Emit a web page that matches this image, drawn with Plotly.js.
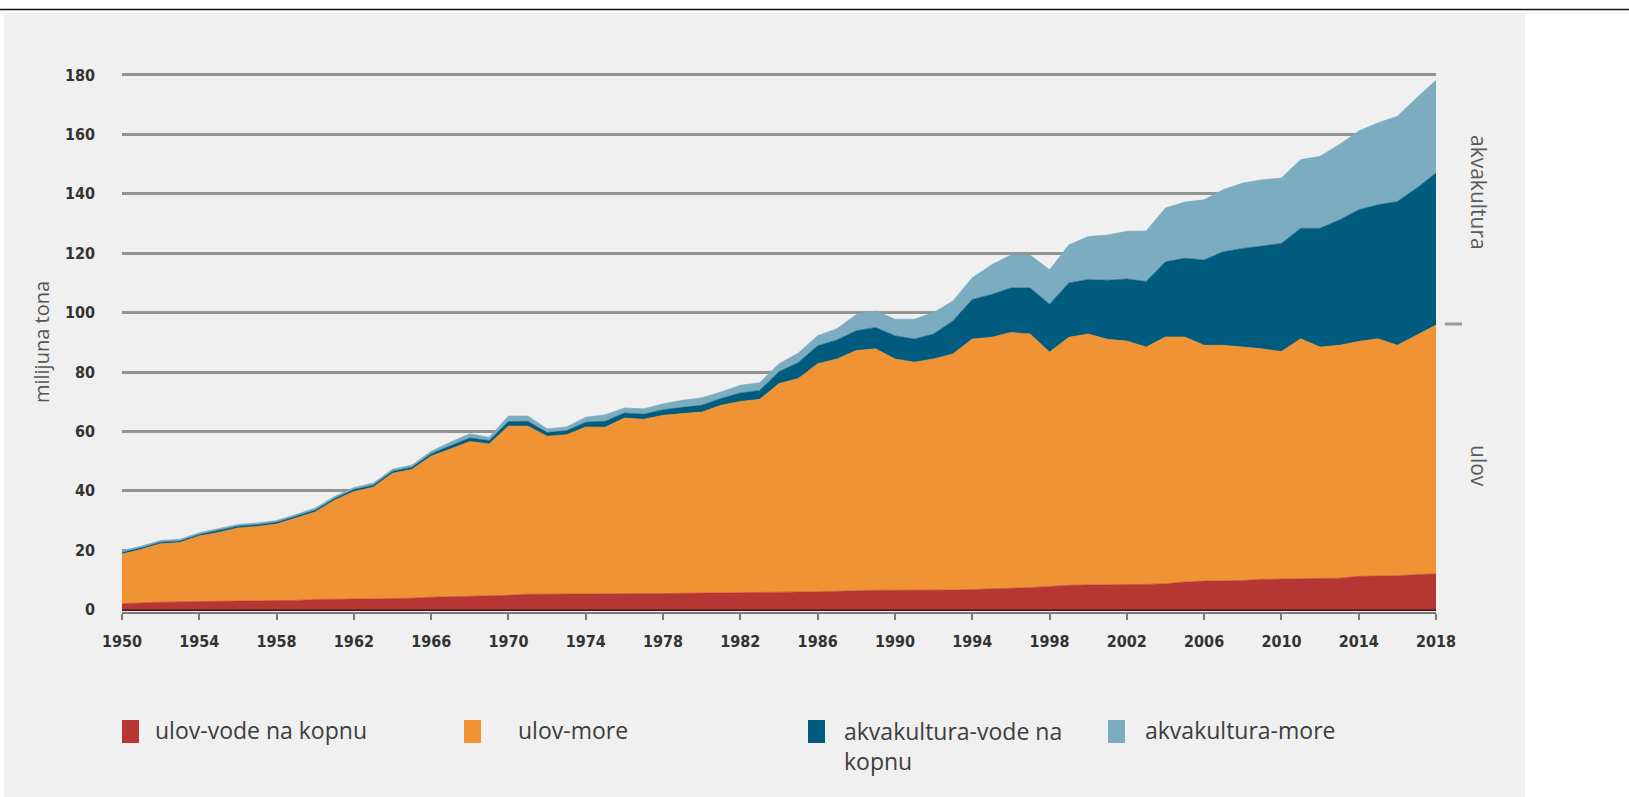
<!DOCTYPE html>
<html>
<head>
<meta charset="utf-8">
<script src="https://cdn.plot.ly/plotly-3.0.1.min.js"></script>
<style>
  html, body { margin: 0; padding: 0; background: #ffffff; }
  #chart { width: 1629px; height: 797px; }
</style>
</head>
<body>
<div id="chart"></div>
<script>
// ---- data (million tonnes) ----
const years = [1950,1951,1952,1953,1954,1955,1956,1957,1958,1959,
  1960,1961,1962,1963,1964,1965,1966,1967,1968,1969,
  1970,1971,1972,1973,1974,1975,1976,1977,1978,1979,
  1980,1981,1982,1983,1984,1985,1986,1987,1988,1989,
  1990,1991,1992,1993,1994,1995,1996,1997,1998,1999,
  2000,2001,2002,2003,2004,2005,2006,2007,2008,2009,
  2010,2011,2012,2013,2014,2015,2016,2017,2018];

const captureInland = [2.0,2.3,2.5,2.6,2.8,2.8,2.9,2.9,3.0,3.1,
  3.4,3.5,3.5,3.6,3.6,3.8,4.2,4.3,4.4,4.5,
  4.8,5.2,5.2,5.3,5.3,5.3,5.4,5.4,5.4,5.5,
  5.5,5.6,5.7,5.8,5.8,5.9,6.0,6.2,6.4,6.5,
  6.5,6.5,6.5,6.6,6.8,7.1,7.2,7.4,7.9,8.2,
  8.3,8.3,8.4,8.5,8.7,9.3,9.6,9.7,9.8,10.2,
  10.4,10.4,10.5,10.6,11.2,11.3,11.4,11.8,12.0];

const captureMarine = [16.7,18.0,19.7,20.0,22.0,23.2,24.6,25.1,25.8,27.7,
  29.5,33.3,36.3,37.6,42.3,43.4,47.5,49.8,52.2,51.3,
  57.0,56.6,53.2,53.6,56.2,56.1,59.1,58.7,60.0,60.5,
  61.0,63.2,64.4,65.0,70.3,71.9,76.8,78.2,80.8,81.3,
  77.9,76.8,77.9,79.5,84.3,84.6,86.1,85.4,78.8,83.5,
  84.5,82.7,82.0,79.9,83.1,82.5,79.4,79.3,78.6,77.6,
  76.5,80.8,77.9,78.4,79.1,79.9,77.6,80.5,83.8];

const aquaInland = [0.5,0.5,0.5,0.5,0.5,0.6,0.6,0.6,0.6,0.6,
  0.6,0.6,0.6,0.7,0.7,0.7,0.8,1.1,1.2,1.1,
  1.5,1.6,1.2,1.3,1.6,2.0,1.7,1.7,1.9,2.1,
  2.3,2.3,2.8,3.0,4.0,5.4,6.0,6.4,6.7,7.2,
  7.8,7.8,8.4,11.1,13.3,14.4,15.0,15.5,16.1,18.3,
  18.3,19.9,20.9,22.1,25.3,26.5,28.7,31.5,33.2,34.6,
  36.4,37.2,40.0,42.2,44.3,45.1,48.4,49.6,51.2];

const aquaMarine = [0.6,0.6,0.6,0.6,0.6,0.6,0.6,0.6,0.6,0.6,
  0.7,0.7,0.7,0.7,0.7,0.8,0.8,1.2,1.4,1.1,
  1.9,1.8,1.3,1.3,1.7,2.2,1.7,1.8,2.0,2.4,
  2.5,2.2,2.6,2.6,2.7,3.2,3.4,3.8,5.5,5.6,
  5.6,6.7,7.2,6.7,7.3,10.0,11.1,11.1,11.6,12.8,
  14.5,15.2,16.1,17.0,18.1,18.9,20.3,20.9,22.0,22.3,
  22.0,23.1,24.2,25.4,26.5,27.6,28.7,30.4,31.2];

const seriesNames = ['ulov-vode na kopnu', 'ulov-more', 'akvakultura-vode na kopnu', 'akvakultura-more'];
const legendLabels = ['ulov-vode na kopnu', 'ulov-more', 'akvakultura-vode na<br>kopnu', 'akvakultura-more'];
const seriesColors = ['#b63633', '#f09334', '#005b7f', '#7bacbf'];
const yTicks = [0,20,40,60,80,100,120,140,160,180];
const yAxisTitle = 'milijuna tona';
const sideLabels = ['akvakultura', 'ulov'];

// ---- layout geometry (pixels) ----
const W = 1629, H = 797;
const M = {l: 122, r: 193, t: 72, b: 185};
const PW = W - M.l - M.r, PH = H - M.t - M.b;
const px = x => (x - M.l) / PW;          // pixel -> paper x
const py = y => (H - M.b - y) / PH;      // pixel -> paper y

const seriesData = [captureInland, captureMarine, aquaInland, aquaMarine];
const traces = seriesData.map((vals, i) => ({
  type: 'scatter',
  x: years,
  y: vals,
  name: seriesNames[i],
  stackgroup: 'one',
  mode: 'lines',
  line: {width: 0.6, color: seriesColors[i], shape: 'linear'},
  fillcolor: seriesColors[i],
  showlegend: false,
  hoverinfo: 'x+y+name'
}));

const tickFont = {family: '"Liberation Sans Narrow", "DejaVu Sans Condensed", Roboto, sans-serif', size: 16, color: '#333333', weight: 700};
const textFont = {family: '"Open Sans", "Noto Sans", sans-serif', size: 23, color: '#3d3d3d'};
const sideFont = {family: '"Open Sans", "Noto Sans", sans-serif', size: 21, color: '#5a5a5a'};

const shapes = [
  // grey panel
  {type: 'rect', xref: 'paper', yref: 'paper', x0: px(4), x1: px(1525), y0: py(797), y1: py(13),
   fillcolor: '#f0f0f0', line: {width: 0}, layer: 'below'},
  // top rule
  {type: 'line', xref: 'paper', yref: 'paper', x0: px(0), x1: px(1629), y0: py(9.5), y1: py(9.5),
   line: {color: '#111111', width: 1.5}},
  // small separator dash on the right
  {type: 'line', xref: 'paper', yref: 'paper', x0: px(1445), x1: px(1462), y0: py(324), y1: py(324),
   line: {color: '#9a9a9a', width: 3}}
];

const legendX = [122, 464, 808, 1108];
const legendTextX = [153, 516, 842, 1143];
legendX.forEach((x, i) => {
  shapes.push({type: 'rect', xref: 'paper', yref: 'paper', x0: px(x), x1: px(x + 17), y0: py(743), y1: py(720),
    fillcolor: seriesColors[i], line: {width: 0}});
});

const annotations = legendLabels.map((t, i) => ({
  xref: 'paper', yref: 'paper', x: px(legendTextX[i]), y: py(i === 2 ? 746 : 730),
  xanchor: 'left', yanchor: 'middle', align: 'left', showarrow: false,
  text: t, font: textFont
}));
annotations.push(
  {xref: 'paper', yref: 'paper', x: px(1479), y: py(192), text: sideLabels[0], textangle: 90,
   showarrow: false, xanchor: 'center', yanchor: 'middle', font: sideFont},
  {xref: 'paper', yref: 'paper', x: px(1479), y: py(466), text: sideLabels[1], textangle: 90,
   showarrow: false, xanchor: 'center', yanchor: 'middle', font: sideFont}
);

const layout = {
  width: W, height: H,
  margin: M,
  paper_bgcolor: '#ffffff',
  plot_bgcolor: 'rgba(0,0,0,0)',
  showlegend: false,
  xaxis: {
    range: [1950, 2018],
    tick0: 1950, dtick: 4,
    showgrid: false,
    zeroline: false,
    showline: true, linecolor: '#7a7a7a', linewidth: 2,
    ticks: 'outside', ticklen: 6, tickwidth: 2, tickcolor: '#7a7a7a',
    ticklabelstandoff: 8,
    tickfont: tickFont,
    fixedrange: true
  },
  yaxis: {
    range: [-0.8, 181],
    tickvals: yTicks,
    ticktext: yTicks.map(String),
    showgrid: true, gridcolor: '#939393', gridwidth: 3,
    zeroline: true, zerolinecolor: '#3a1616', zerolinewidth: 2,
    showline: false,
    ticks: '',
    ticklabelstandoff: 26,
    tickfont: tickFont,
    title: {text: yAxisTitle, font: {family: '"Open Sans", "Noto Sans", sans-serif', size: 20, color: '#555555'}, standoff: 9},
    fixedrange: true
  },
  shapes: shapes,
  annotations: annotations
};

Plotly.newPlot('chart', traces, layout, {displayModeBar: false, responsive: false});
</script>
</body>
</html>
